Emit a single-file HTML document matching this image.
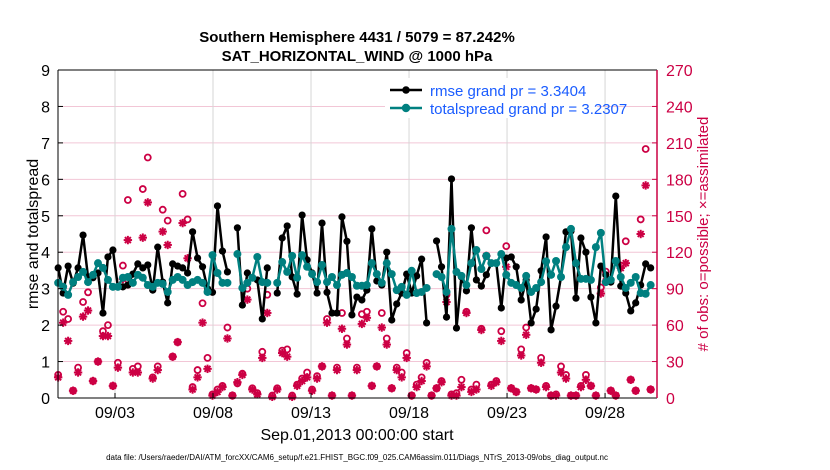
<!DOCTYPE html>
<html><head><meta charset="utf-8">
<style>
body{margin:0;background:#fff;}
svg{display:block;font-family:"Liberation Sans",Arial,sans-serif;}
</style></head>
<body>
<svg id="chart" width="830" height="470" viewBox="0 0 830 470">
<rect width="830" height="470" fill="#fff"/>
<text x="357" y="42" text-anchor="middle" font-size="15" font-weight="bold">Southern Hemisphere 4431 / 5079 = 87.242%</text>
<text x="357" y="61" text-anchor="middle" font-size="15" font-weight="bold">SAT_HORIZONTAL_WIND @ 1000 hPa</text>
<g id="grid"></g>
<g id="obs"></g>
<g id="lines"></g>
<g id="axes"></g>
<text transform="translate(38,234) rotate(-90)" text-anchor="middle" font-size="16">rmse and totalspread</text>
<text transform="translate(708,234) rotate(-90)" text-anchor="middle" font-size="15" fill="#cc0044"># of obs: o=possible; ×=assimilated</text>
<text x="357" y="440" text-anchor="middle" font-size="16">Sep.01,2013 00:00:00 start</text>
<text x="357" y="460" text-anchor="middle" font-size="8">data file: /Users/raeder/DAI/ATM_forcXX/CAM6_setup/f.e21.FHIST_BGC.f09_025.CAM6assim.011/Diags_NTrS_2013-09/obs_diag_output.nc</text>
<g>
<rect x="385" y="78" width="212" height="40" fill="#fff"/>
<line x1="390" y1="90" x2="422" y2="90" stroke="#000" stroke-width="2.5"/>
<circle cx="406" cy="90" r="3.8" fill="#000"/>
<text x="430" y="96" font-size="15" fill="#1a5cff">rmse grand pr = 3.3404</text>
<line x1="390" y1="108" x2="422" y2="108" stroke="#008080" stroke-width="2.5"/>
<circle cx="406" cy="108" r="4.2" fill="#008080"/>
<text x="430" y="114" font-size="15" fill="#1a5cff">totalspread grand pr = 3.2307</text>
</g>
</svg>
<script>
const rmse=[3.57,2.88,3.62,3.15,3.57,4.47,3.32,3.3,3.43,2.33,3.87,4.06,3.05,3.05,3.1,3.4,3.68,3.57,3.65,2.96,4.14,3.18,2.61,3.68,3.62,3.57,3.43,4.56,3.84,3.6,3.0,2.9,5.27,4.03,3.46,null,4.67,2.55,3.43,3.3,3.24,2.17,3.57,null,2.88,4.39,4.72,3.32,2.85,5.02,3.79,3.43,2.88,4.8,2.9,2.33,2.33,4.97,4.3,2.28,2.77,2.69,2.96,4.64,3.21,3.1,4.0,2.14,2.58,2.88,3.4,2.88,3.35,3.81,2.06,null,4.31,3.6,2.22,6.01,1.92,3.32,2.94,4.67,3.24,3.07,3.38,3.7,3.7,2.47,3.84,3.87,3.6,2.69,3.24,2.06,2.44,3.49,4.42,1.87,2.52,3.32,4.56,4.58,2.74,4.39,4.0,2.77,2.06,3.62,3.38,3.18,5.54,3.07,2.88,2.39,2.61,3.1,3.68,3.57];
const spread=[3.16,3.05,2.83,3.18,3.32,3.46,3.18,3.38,3.7,3.57,3.24,3.05,3.05,3.3,3.32,3.16,3.38,3.3,3.1,3.05,3.16,3.13,2.91,3.24,3.32,3.24,3.1,3.18,3.24,3.16,2.91,3.92,3.43,3.16,3.16,null,3.95,3.02,3.16,3.3,3.87,3.18,3.16,null,3.16,3.73,3.46,3.9,3.3,3.92,3.6,3.4,3.18,3.65,3.18,3.32,3.1,3.38,3.43,3.32,3.08,3.08,3.1,3.7,3.4,3.16,3.7,3.4,2.96,3.05,2.83,3.49,2.88,2.91,3.02,null,3.4,3.32,2.91,4.64,3.46,3.35,3.1,3.7,4.06,3.54,3.9,3.7,3.7,3.95,3.38,3.16,3.1,3.02,3.35,2.91,3.02,3.18,3.75,3.38,3.76,3.32,4.14,4.64,3.7,3.27,3.27,3.24,4.14,4.53,3.18,3.24,3.76,3.32,3.02,3.16,3.32,2.88,2.86,3.1];
const possible=[19,71,65,6,25,79,87,14,30,55,60,10,29,109,163,24,26,172,198,17,26,155,146,34,46,168,147,9,23,78,33,3,7,10,58,2,12,20,90,8,4,38,85,2,8,39,40,2,11,16,21,7,18,26,65,2,25,70,49,2,25,69,71,10,26,70,49,8,25,21,37,2,11,17,29,2,8,14,85,3,4,15,71,7,11,57,138,11,14,55,125,8,5,40,58,8,7,33,10,2,3,26,19,2,2,10,19,10,2,91,104,6,2,109,129,15,6,147,205,7];
const assimilated=[17,62,47,6,21,67,72,14,30,51,51,10,25,98,130,21,21,132,161,16,23,137,126,34,46,144,115,7,17,62,24,2,5,9,49,2,13,19,81,7,3,33,70,1,7,37,34,1,10,14,17,6,16,26,62,2,23,57,44,2,23,61,66,10,26,58,44,8,23,17,33,2,9,14,26,2,8,13,79,2,2,9,70,5,7,56,117,10,13,47,108,8,5,35,52,8,7,29,9,2,2,21,16,2,2,9,15,10,2,86,96,6,2,107,111,15,6,135,175,7];
const dateTicks=[2,7,12,17,22,27];
const dateLabels=["09/03","09/08","09/13","09/18","09/23","09/28"];
const leftTicks=[0,1,2,3,4,5,6,7,8,9];
const rightTicks=[0,30,60,90,120,150,180,210,240,270];
const startDay=-0.9, stepDay=0.254;

const X0=58,X1=657,Y0=398,Y1=70;
const D0=-0.908,D1=29.65;
const xS=d=>X0+(d-D0)/(D1-D0)*(X1-X0);
const yL=v=>Y0-v/9*(Y0-Y1);
const yR=v=>Y0-v/270*(Y0-Y1);
const NS="http://www.w3.org/2000/svg";
function mk(tag,attrs,parent){const e=document.createElementNS(NS,tag);for(const k in attrs)e.setAttribute(k,attrs[k]);parent.appendChild(e);return e;}
const grid=document.getElementById('grid'),axes=document.getElementById('axes'),obs=document.getElementById('obs'),lines=document.getElementById('lines');
const red="#cc0044";
rightTicks.forEach((t,i)=>{
  if(t>0&&t<270){const l=mk('line',{x1:X0,x2:X1,y1:yR(t),y2:yR(t),stroke:"#f2c6d6","stroke-width":1},grid);
  
  }
  const tx=mk('text',{x:X1+9,y:yR(t)+6,"font-size":16,fill:red},axes);tx.textContent=t;
  
  
  mk('line',{x1:X1-5,x2:X1,y1:yR(t),y2:yR(t),stroke:red},axes);
});
dateTicks.forEach((d,i)=>{
  const l=mk('line',{x1:xS(d),x2:xS(d),y1:Y1,y2:Y0,stroke:"#d6d6d6","stroke-width":1},grid);
  
  
  mk('line',{x1:xS(d),x2:xS(d),y1:Y0,y2:Y0-5,stroke:"#000"},axes);
  const tx=mk('text',{x:xS(d),y:Y0+20,"font-size":16,"text-anchor":"middle"},axes);tx.textContent=dateLabels[i];
  
  
});
leftTicks.forEach(t=>{
  mk('line',{x1:X0,x2:X0+5,y1:yL(t),y2:yL(t),stroke:"#000"},axes);
  const tx=mk('text',{x:X0-8,y:yL(t)+6,"font-size":16,"text-anchor":"end"},axes);tx.textContent=t;
  
  
});
mk('line',{x1:X0,x2:X1,y1:Y0,y2:Y0,stroke:"#000"},axes);
mk('line',{x1:X0,x2:X1,y1:Y1,y2:Y1,stroke:"#000"},axes);
mk('line',{x1:X0,x2:X0,y1:Y1,y2:Y0,stroke:"#000"},axes);
mk('line',{x1:X1,x2:X1,y1:Y1,y2:Y0,stroke:red,"stroke-width":1.5},axes);

const tday=i=>startDay+i*stepDay;
possible.forEach((v,i)=>{
  const c=mk('circle',{cx:xS(tday(i)),cy:yR(v),r:3,fill:"none",stroke:red,"stroke-width":1.8},obs);
  
  
});
assimilated.forEach((v,i)=>{
  const g=mk('g',{transform:`translate(${xS(tday(i))},${yR(v)})`,stroke:red,"stroke-width":2},obs);
  
  
  for(let a=0;a<4;a++){const an=a*Math.PI/4;mk('line',{x1:-4.2*Math.cos(an),y1:-4.2*Math.sin(an),x2:4.2*Math.cos(an),y2:4.2*Math.sin(an)},g);}
});
function series(arr,color,r,name){
  let d="",pen=false;
  arr.forEach((v,i)=>{if(v==null){pen=false;return;}d+=(pen?"L":"M")+xS(tday(i)).toFixed(1)+","+yL(v).toFixed(1);pen=true;});
  const p=mk('path',{d:d,fill:"none",stroke:color,"stroke-width":2.5,"stroke-linejoin":"round"},lines);
  
  
  arr.forEach((v,i)=>{if(v==null)return;const c=mk('circle',{cx:xS(tday(i)),cy:yL(v),r:r,fill:color},lines);
    
    });
}
series(rmse,"#000",3.6,"rmse");
series(spread,"#008080",4,"totalspread");
</script>
</body></html>
